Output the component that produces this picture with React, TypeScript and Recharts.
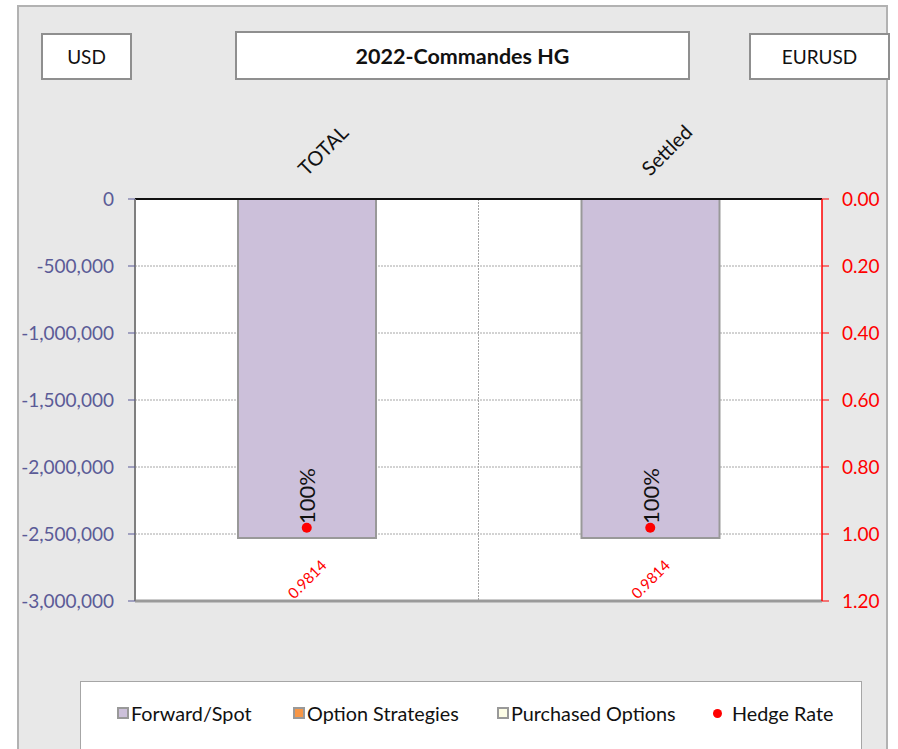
import React from 'react';
import {
	Bar,
	CartesianGrid,
	ComposedChart,
	Line,
	ReferenceLine,
	XAxis,
	YAxis,
} from 'recharts';

const categories = ['TOTAL', 'Settled'];
const forwardSpot = [-2530000, -2530000];
const optionStrategies = [0, 0];
const purchasedOptions = [0, 0];
const hedgeRate = [0.9814, 0.9814];
const coverage = ['100%', '100%'];
const leftTicks = [0, -500000, -1000000, -1500000, -2000000, -2500000, -3000000];
const rightTicks = [0, 0.2, 0.4, 0.6, 0.8, 1.0, 1.2];

const data = categories.map((category, i) => ({
	category,
	forwardSpot: forwardSpot[i],
	optionStrategies: optionStrategies[i],
	purchasedOptions: purchasedOptions[i],
	hedge: hedgeRate[i],
	coverage: coverage[i],
}));

const FONT = 'Lato, "Open Sans", sans-serif';

const CategoryTick = (props: any) => {
	const { x, y, payload } = props;
	return (
		<text
			x={x}
			y={y}
			transform={`rotate(-45, ${x}, ${y})`}
			textAnchor="start"
			fontSize={20}
			fontFamily={FONT}
			fill="#111"
		>
			{payload.value}
		</text>
	);
};

const CoverageLabel = (props: any) => {
	const { x, y, width, height, index } = props;
	const cx = x + width / 2;
	const bottom = Math.max(y, y + height) - 14;
	return (
		<text
			x={cx}
			y={bottom}
			transform={`rotate(-90, ${cx}, ${bottom})`}
			textAnchor="start"
			dominantBaseline="central"
			fontSize={22}
			fontFamily={FONT}
			fill="#111"
		>
			{data[index].coverage}
		</text>
	);
};

const HedgeLabel = (props: any) => {
	const { x, y, value } = props;
	const ly = y + 51;
	return (
		<text
			x={x}
			y={ly}
			transform={`rotate(-45, ${x}, ${ly})`}
			textAnchor="middle"
			dominantBaseline="central"
			fontSize={15}
			fontFamily={FONT}
			fill="#ff0000"
		>
			{Number(value).toFixed(4)}
		</text>
	);
};

const boxStyle: React.CSSProperties = {
	position: 'absolute',
	background: '#fff',
	border: '2px solid #8f8f8f',
	boxSizing: 'border-box',
	display: 'flex',
	alignItems: 'center',
	justifyContent: 'center',
	fontFamily: FONT,
	fontSize: 19,
	color: '#111',
};

const legendItems = [
	{ label: 'Forward/Spot', color: '#ccc0da', left: 117, type: 'square' },
	{ label: 'Option Strategies', color: '#f79646', left: 293, type: 'square' },
	{ label: 'Purchased Options', color: '#fdfde6', left: 497, type: 'square' },
	{ label: 'Hedge Rate', color: '#ff0000', left: 713, type: 'dot' },
];

export default function App() {
	return (
		<div
			style={{
				position: 'absolute',
				left: 0,
				top: 0,
				width: 898,
				height: 749,
				background: '#fff',
				overflow: 'hidden',
			}}
		>
			<div
				style={{
					position: 'absolute',
					left: 17,
					top: 5,
					width: 871,
					height: 760,
					background: '#e8e8e8',
					border: '2px solid #b2b2b2',
					boxSizing: 'border-box',
				}}
			/>
			<div style={{ position: 'absolute', left: 0, top: 0 }}>
				<ComposedChart
					width={898}
					height={749}
					data={data}
					margin={{ top: 169, right: 0, bottom: 148, left: 0 }}
				>
					<CartesianGrid
						yAxisId="left"
						fill="#ffffff"
						stroke="#a6a6a6"
						strokeDasharray="2 1"
						verticalCoordinatesGenerator={({ offset }: any) => [
							offset.left + offset.width / 2,
						]}
					/>
					<XAxis
						dataKey="category"
						orientation="top"
						height={30}
						axisLine={{ stroke: '#111', strokeWidth: 2 }}
						tickLine={false}
						tickSize={0}
						tickMargin={22}
						tick={<CategoryTick />}
						interval={0}
					/>
					<YAxis
						yAxisId="left"
						width={135}
						domain={[-3000000, 0]}
						ticks={leftTicks}
						tickFormatter={(v: number) => v.toLocaleString('en-US')}
						tick={{ fill: '#5b5b97', fontSize: 19, fontFamily: FONT }}
						axisLine={{ stroke: '#7f7f7f', strokeWidth: 2 }}
						tickLine={{ stroke: '#5b5b97' }}
						tickSize={7}
						tickMargin={14}
						interval={0}
					/>
					<YAxis
						yAxisId="right"
						orientation="right"
						width={76}
						reversed
						domain={[0, 1.2]}
						ticks={rightTicks}
						tickFormatter={(v: number) => v.toFixed(2)}
						tick={{ fill: '#ff0000', fontSize: 19, fontFamily: FONT }}
						axisLine={{ stroke: '#ff0000', strokeWidth: 1.5 }}
						tickLine={{ stroke: '#ff0000' }}
						tickSize={7}
						tickMargin={13}
						interval={0}
					/>
					<ReferenceLine yAxisId="left" y={-3000000} stroke="#9a9a9a" strokeWidth={3} />
					<Bar
						yAxisId="left"
						dataKey="forwardSpot"
						stackId="a"
						barSize={138}
						fill="#ccc0da"
						stroke="#999999"
						strokeWidth={2}
						label={<CoverageLabel />}
						isAnimationActive={false}
					/>
					<Bar
						yAxisId="left"
						dataKey="optionStrategies"
						stackId="a"
						barSize={138}
						fill="#f79646"
						isAnimationActive={false}
					/>
					<Bar
						yAxisId="left"
						dataKey="purchasedOptions"
						stackId="a"
						barSize={138}
						fill="#fdfde6"
						isAnimationActive={false}
					/>
					<Line
						yAxisId="right"
						dataKey="hedge"
						stroke="none"
						dot={{ r: 5, fill: '#ff0000', stroke: 'none' }}
						activeDot={false}
						label={<HedgeLabel />}
						isAnimationActive={false}
					/>
				</ComposedChart>
			</div>

			<div style={{ ...boxStyle, left: 41, top: 33, width: 91, height: 47 }}>USD</div>
			<div
				style={{
					...boxStyle,
					left: 235,
					top: 31,
					width: 455,
					height: 49,
					fontWeight: 700,
					fontSize: 21.5,
				}}
			>
				2022-Commandes HG
			</div>
			<div style={{ ...boxStyle, left: 749, top: 33, width: 141, height: 47 }}>EURUSD</div>

			<div
				style={{
					position: 'absolute',
					left: 80,
					top: 681,
					width: 782,
					height: 90,
					background: '#fff',
					border: '1px solid #a6a6a6',
					boxSizing: 'border-box',
				}}
			/>
			{legendItems.map((item) => (
				<div
					key={item.label}
					style={{
						position: 'absolute',
						left: item.left,
						top: 701,
						height: 24,
						display: 'flex',
						alignItems: 'center',
						fontFamily: FONT,
						fontSize: 19.8,
						color: '#111',
						whiteSpace: 'nowrap',
					}}
				>
					{item.type === 'square' ? (
						<span
							style={{
								display: 'inline-block',
								width: 12,
								height: 12,
								background: item.color,
								border: '2px solid #999',
								boxSizing: 'border-box',
								marginRight: 2,
							}}
						/>
					) : (
						<span
							style={{
								display: 'inline-block',
								width: 9,
								height: 9,
								borderRadius: '50%',
								background: item.color,
								marginRight: 10,
							}}
						/>
					)}
					{item.label}
				</div>
			))}
		</div>
	);
}
